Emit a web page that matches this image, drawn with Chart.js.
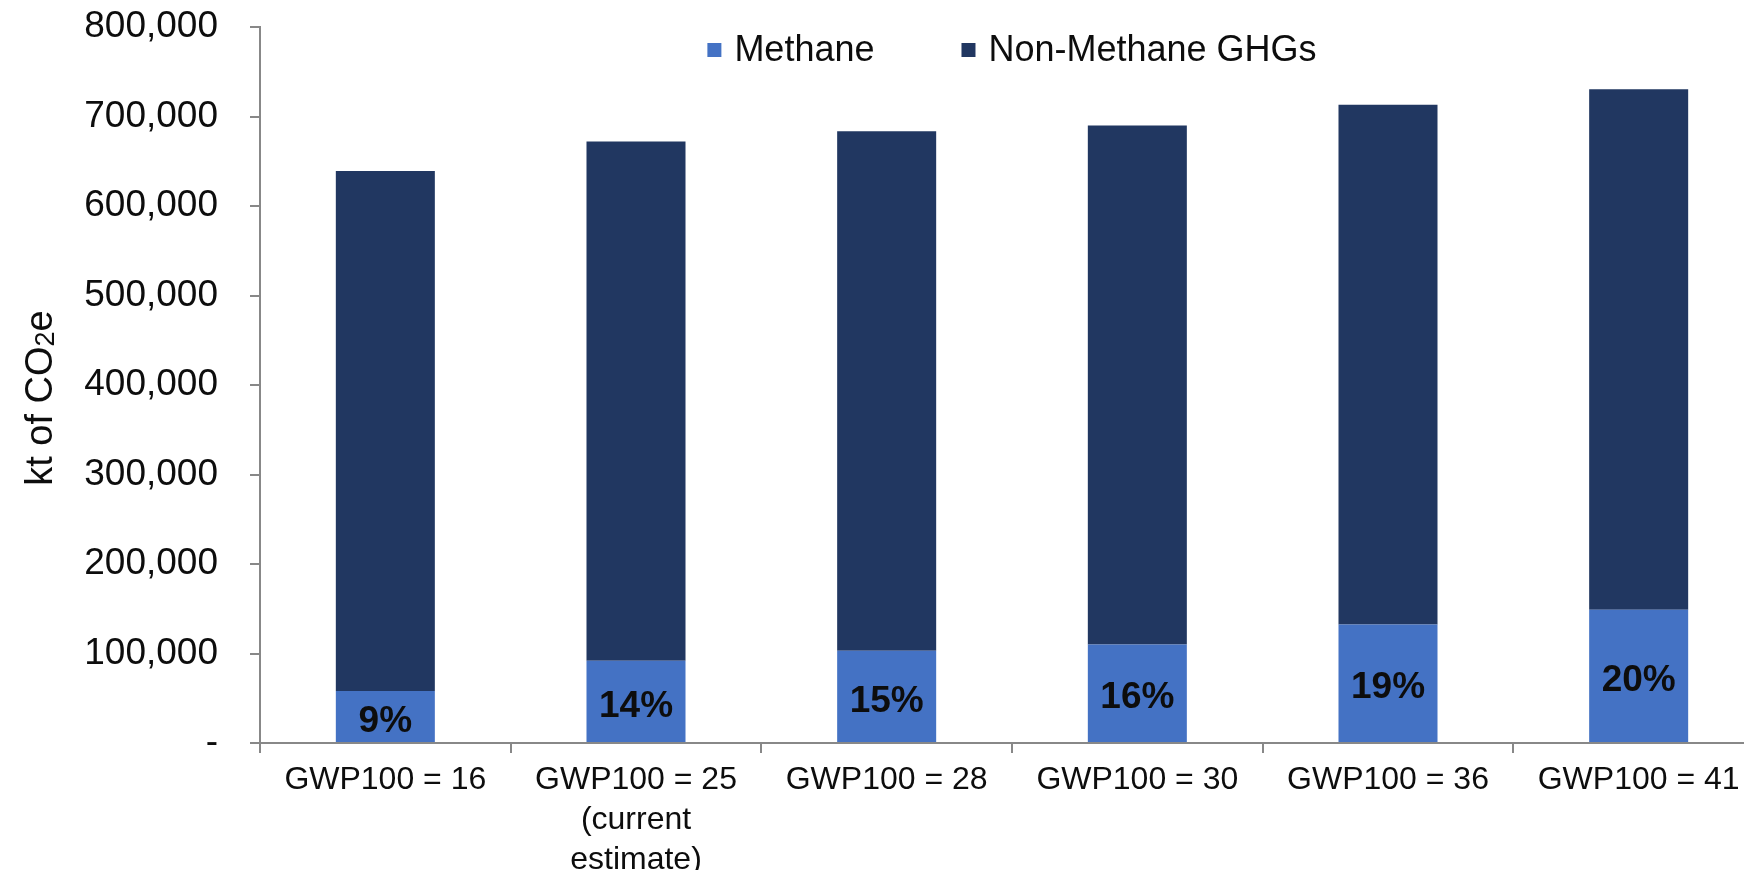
<!DOCTYPE html>
<html>
<head>
<meta charset="utf-8">
<title>Methane share of GHG emissions by GWP100</title>
<script src="https://cdn.jsdelivr.net/npm/chart.js@4.4.1/dist/chart.umd.min.js"></script>
<style>
  html, body { margin: 0; padding: 0; background: #fff; overflow: hidden; }
  #wrap { width: 1744px; height: 870px; overflow: hidden; }
</style>
</head>
<body>
<div id="wrap"><canvas id="ghg" width="1765" height="870"></canvas></div>
<script>
// kt CO2e per GWP100 scenario
const categories = [
  "GWP100 = 16",
  ["GWP100 = 25", "(current", "estimate)"],
  "GWP100 = 28",
  "GWP100 = 30",
  "GWP100 = 36",
  "GWP100 = 41",
];
const methane = [58000, 92000, 103000, 110000, 132500, 149000];
const nonMethane = [581000, 580000, 580500, 580000, 580500, 581500];
const yTicks = [0, 100000, 200000, 300000, 400000, 500000, 600000, 700000, 800000];

const FONT = '"Liberation Sans", Arial, sans-serif';
const AXIS_GREY = "#888888";
const TEXT = "#0d0d0d";

// percentage of methane written inside each light-blue segment
const shareLabels = {
  id: "shareLabels",
  afterDatasetsDraw(chart) {
    const ctx = chart.ctx;
    const meta = chart.getDatasetMeta(0);
    ctx.save();
    ctx.font = "bold 37px " + FONT;
    ctx.fillStyle = TEXT;
    ctx.textAlign = "center";
    ctx.textBaseline = "middle";
    meta.data.forEach((bar, i) => {
      const share = Math.round((methane[i] / (methane[i] + nonMethane[i])) * 100);
      ctx.fillText(share + "%", bar.x, (bar.y + bar.base) / 2 + 5);
    });
    ctx.restore();
  },
};

// legend sits inside the plot area, so it is drawn by hand
const innerLegend = {
  id: "innerLegend",
  afterDraw(chart) {
    const ctx = chart.ctx;
    const area = chart.chartArea;
    const box = 14, gap = 13, itemGap = 87;
    ctx.save();
    ctx.font = "36px " + FONT;
    const items = chart.data.datasets.map((ds) => ({
      text: ds.label,
      color: ds.backgroundColor,
      w: ctx.measureText(ds.label).width,
    }));
    let total = 0;
    items.forEach((it, i) => {
      total += box + gap + it.w + (i ? itemGap : 0);
    });
    let x = (area.left + area.right) / 2 - total / 2;
    const y = area.top + 23;
    ctx.textBaseline = "middle";
    ctx.textAlign = "left";
    items.forEach((it) => {
      ctx.fillStyle = it.color;
      ctx.fillRect(x, y - box / 2, box, box);
      ctx.fillStyle = TEXT;
      ctx.fillText(it.text, x + box + gap, y + 1);
      x += box + gap + it.w + itemGap;
    });
    ctx.restore();
  },
};

// y title with a real subscript 2 in CO2e
const yTitle = {
  id: "yTitle",
  afterDraw(chart) {
    const ctx = chart.ctx;
    const area = chart.chartArea;
    const big = "38px " + FONT, small = "27px " + FONT;
    const parts = [
      { t: "kt of CO", f: big, dy: 0 },
      { t: "2", f: small, dy: 2 },
      { t: "e", f: big, dy: 0 },
    ];
    ctx.save();
    let len = 0;
    parts.forEach((p) => {
      ctx.font = p.f;
      p.w = ctx.measureText(p.t).width;
      len += p.w;
    });
    ctx.translate(52, (area.top + area.bottom) / 2 + 13);
    ctx.rotate(-Math.PI / 2);
    ctx.fillStyle = TEXT;
    ctx.textBaseline = "alphabetic";
    ctx.textAlign = "left";
    let x = -len / 2;
    parts.forEach((p) => {
      ctx.font = p.f;
      ctx.fillText(p.t, x, p.dy);
      x += p.w;
    });
    ctx.restore();
  },
};

const config = {
  type: "bar",
  data: {
    labels: categories,
    datasets: [
      {
        label: "Methane",
        data: methane,
        backgroundColor: "#4472c4",
        barPercentage: 0.395,
        categoryPercentage: 1,
      },
      {
        label: "Non-Methane GHGs",
        data: nonMethane,
        backgroundColor: "#213761",
        barPercentage: 0.395,
        categoryPercentage: 1,
      },
    ],
  },
  options: {
    responsive: false,
    animation: false,
    devicePixelRatio: 1,
    layout: { padding: { top: 27, right: 1, left: 0, bottom: 0 } },
    plugins: {
      legend: { display: false },
      tooltip: { enabled: false },
    },
    scales: {
      x: {
        stacked: true,
        offset: true,
        grid: {
          offset: true,
          drawOnChartArea: false,
          drawTicks: true,
          tickLength: 10,
          color: AXIS_GREY,
          lineWidth: 2,
        },
        border: { display: true, color: AXIS_GREY, width: 2 },
        ticks: {
          autoSkip: false,
          maxRotation: 0,
          padding: 7,
          color: TEXT,
          font: { family: FONT, size: 32, lineHeight: 1.25 },
        },
        afterFit(scale) {
          scale.height = 127;
          scale.paddingLeft = 0;
          scale.paddingRight = 0;
        },
      },
      y: {
        stacked: true,
        min: 0,
        max: 800000,
        afterBuildTicks(scale) {
          scale.ticks = yTicks.map((v) => ({ value: v }));
        },
        grid: {
          drawOnChartArea: false,
          drawTicks: true,
          tickLength: 10,
          color: AXIS_GREY,
          lineWidth: 2,
        },
        border: { display: true, color: AXIS_GREY, width: 2 },
        ticks: {
          padding: 32,
          color: TEXT,
          font: { family: FONT, size: 37 },
          callback: (v) => (v === 0 ? "-" : v.toLocaleString("en-US")),
        },
        afterFit(scale) {
          scale.width = 260;
          scale.paddingTop = 0;
          scale.paddingBottom = 0;
        },
      },
    },
  },
  plugins: [shareLabels, innerLegend, yTitle],
};

const ghgCtx = document.getElementById("ghg");
window.ghgChart = new Chart(ghgCtx, config);
</script>
</body>
</html>
